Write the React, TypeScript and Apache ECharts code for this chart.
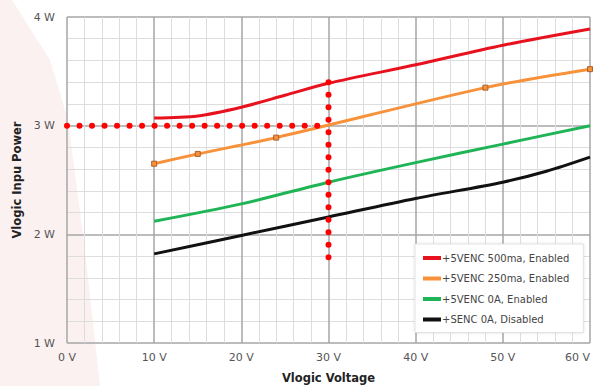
import React, { useEffect, useRef } from "react";
import * as echarts from "echarts";

const seriesNames = [
  "+5VENC 500ma, Enabled",
  "+5VENC 250ma, Enabled",
  "+5VENC 0A, Enabled",
  "+SENC 0A, Disabled",
];
const red500: [number, number][] = [
  [10, 3.07], [15, 3.09], [20, 3.17], [25, 3.28], [30, 3.39], [40, 3.56], [50, 3.74], [60, 3.89],
];
const orange250: [number, number][] = [
  [10, 2.65], [15, 2.74], [24, 2.89], [48, 3.35], [60, 3.52],
];
const green0: [number, number][] = [
  [10, 2.12], [20, 2.28], [30, 2.48], [40, 2.66], [50, 2.83], [60, 3.0],
];
const black0: [number, number][] = [
  [10, 1.82], [20, 1.99], [30, 2.16], [40, 2.33], [50, 2.48], [55, 2.58], [60, 2.71],
];
const guideH: [number, number][] = [[0, 3], [30, 3]];
const guideV: [number, number][] = [[30, 3.4], [30, 1.74]];
const colors = ["#e8121e", "#f7923a", "#1fb556", "#111111"];

export default function App() {
  const ref = useRef<HTMLDivElement>(null);
  useEffect(() => {
    if (!ref.current) return;
    const chart = echarts.init(ref.current, null, { renderer: "svg" });
    const font = "DejaVu Sans";
    const dotStyle = {
      color: "#ff0000",
      width: 6,
      type: [0.01, 12.5] as any,
      cap: "round" as const,
    };
    const mainSeries = [red500, orange250, green0, black0].map((d, i) => ({
      name: seriesNames[i],
      type: "line",
      data: d,
      smooth: 0.3,
      showSymbol: i === 1,
      symbol: "rect",
      symbolSize: 5,
      itemStyle: i === 1 ? { color: colors[i], borderColor: "#a9612f", borderWidth: 1 } : { color: colors[i] },
      lineStyle: { color: colors[i], width: 3 },
      z: 3,
    }));
    chart.setOption({
      animation: false,
      backgroundColor: "#ffffff",
      graphic: [
        {
          type: "polygon",
          z: -10,
          silent: true,
          shape: {
            points: [[0, 0], [12, 0], [50, 60], [68, 120], [85, 250], [100, 386], [0, 386]],
          },
          style: { fill: "#fcf1f1" },
        },
      ],
      grid: { left: 67, right: 9, top: 17, bottom: 43, outerBoundsMode: "none", containLabel: false },
      legend: {
        data: seriesNames.map((n) => ({ name: n, itemStyle: { borderWidth: 0 } })),
        orient: "vertical",
        left: 415,
        top: 244,
        icon: "rect",
        itemWidth: 18,
        itemHeight: 4,
        itemGap: 10.5,
        padding: [9, 14, 8, 8],
        backgroundColor: "#ffffff",
        borderColor: "#e2e2e2",
        borderWidth: 1,
        shadowColor: "rgba(0,0,0,0.12)",
        shadowBlur: 3,
        textStyle: { fontFamily: font, fontSize: 10, color: "#444", padding: [0, 0, 0, -4] },
      },
      xAxis: {
        type: "value",
        min: 0,
        max: 60,
        interval: 10,
        name: "Vlogic Voltage",
        nameLocation: "middle",
        nameGap: 29,
        nameTextStyle: { fontFamily: font, fontSize: 11.5, fontWeight: "bold", color: "#222" },
        axisLine: { show: false },
        axisTick: { show: false },
        axisLabel: {
          formatter: "{value} V",
          fontFamily: font,
          fontSize: 11,
          color: "#555",
          margin: 9,
          alignMaxLabel: "right",
        },
        splitLine: { show: true, lineStyle: { color: "#a6a6a6", width: 1.5 } },
        minorTick: { show: false, splitNumber: 5 },
        minorSplitLine: { show: true, lineStyle: { color: "#dddddd", width: 1 } },
      },
      yAxis: {
        type: "value",
        min: 1,
        max: 4,
        interval: 1,
        name: "Vlogic Inpu Power",
        nameLocation: "middle",
        nameGap: 39,
        nameTextStyle: { fontFamily: font, fontSize: 11.5, fontWeight: "bold", color: "#222" },
        axisLine: { show: false },
        axisTick: { show: false },
        axisLabel: { formatter: "{value} W", fontFamily: font, fontSize: 11, color: "#555", margin: 12 },
        splitLine: { show: true, lineStyle: { color: "#a6a6a6", width: 1.5 } },
        minorTick: { show: false, splitNumber: 5 },
        minorSplitLine: { show: true, lineStyle: { color: "#dddddd", width: 1 } },
      },
      series: [
        ...mainSeries,
        {
          name: "guideH",
          type: "line",
          data: guideH,
          showSymbol: false,
          lineStyle: dotStyle,
          z: 4,
        },
        {
          name: "guideV",
          type: "line",
          data: guideV,
          showSymbol: false,
          lineStyle: dotStyle,
          z: 4,
        },
      ],
    });
    return () => chart.dispose();
  }, []);
  return <div ref={ref} style={{ width: 599, height: 386, position: "fixed", left: 0, top: 0 }} />;
}
